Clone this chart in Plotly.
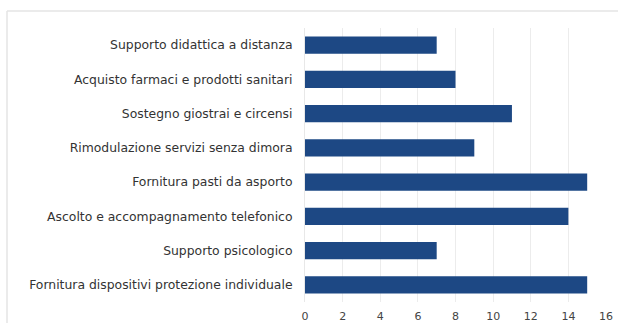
import plotly.graph_objects as go

# Interventions (bottom-to-top order as plotted on the category axis)
categories = [
    "Fornitura dispositivi protezione individuale",
    "Supporto psicologico",
    "Ascolto e accompagnamento telefonico",
    "Fornitura pasti da asporto",
    "Rimodulazione servizi senza dimora",
    "Sostegno giostrai e circensi",
    "Acquisto farmaci e prodotti sanitari",
    "Supporto didattica a distanza",
]
values = [15, 7, 14, 15, 9, 11, 8, 7]
x_ticks = [0, 2, 4, 6, 8, 10, 12, 14, 16]

W, H = 618, 323
ML, MR, MT, MB = 305, 12, 28, 21

fig = go.Figure(
    go.Bar(
        x=values,
        y=categories,
        orientation="h",
        marker=dict(color="#1d4884", line=dict(width=0)),
        width=0.5,
        hoverinfo="x+y",
    )
)

# faint outer frame of the chart area (top and left edges)
pw = W - ML - MR
ph = H - MT - MB
fx0 = (7 - ML) / pw
fy1 = (H - MB - 11) / ph
fig.add_shape(type="line", xref="paper", yref="paper",
              x0=fx0, x1=(W - ML) / pw + 0.01, y0=fy1, y1=fy1,
              line=dict(color="#e4e4e4", width=1.5))
fig.add_shape(type="line", xref="paper", yref="paper",
              x0=fx0, x1=fx0, y0=-0.2, y1=fy1,
              line=dict(color="#e4e4e4", width=1.5))

fig.update_layout(
    width=W,
    height=H,
    margin=dict(l=ML, r=MR, t=MT, b=MB),
    paper_bgcolor="white",
    plot_bgcolor="white",
    showlegend=False,
    font=dict(family="DejaVu Sans, Arial, sans-serif", size=12, color="#3a3a3a"),
    xaxis=dict(
        range=[0, 16],
        tickvals=x_ticks,
        showgrid=True,
        gridcolor="#ececec",
        gridwidth=1,
        zeroline=False,
        showline=False,
        automargin=False,
        ticklabelstandoff=6,
        tickfont=dict(size=11, color="#444"),
        fixedrange=True,
    ),
    yaxis=dict(
        categoryorder="array",
        categoryarray=categories,
        showgrid=False,
        zeroline=False,
        showline=True,
        linecolor="#e8e8e8",
        linewidth=1,
        ticks="",
        automargin=False,
        ticklabelstandoff=9,
        tickfont=dict(size=12.4, color="#333"),
        fixedrange=True,
    ),
)

fig.write_html("out.html")
